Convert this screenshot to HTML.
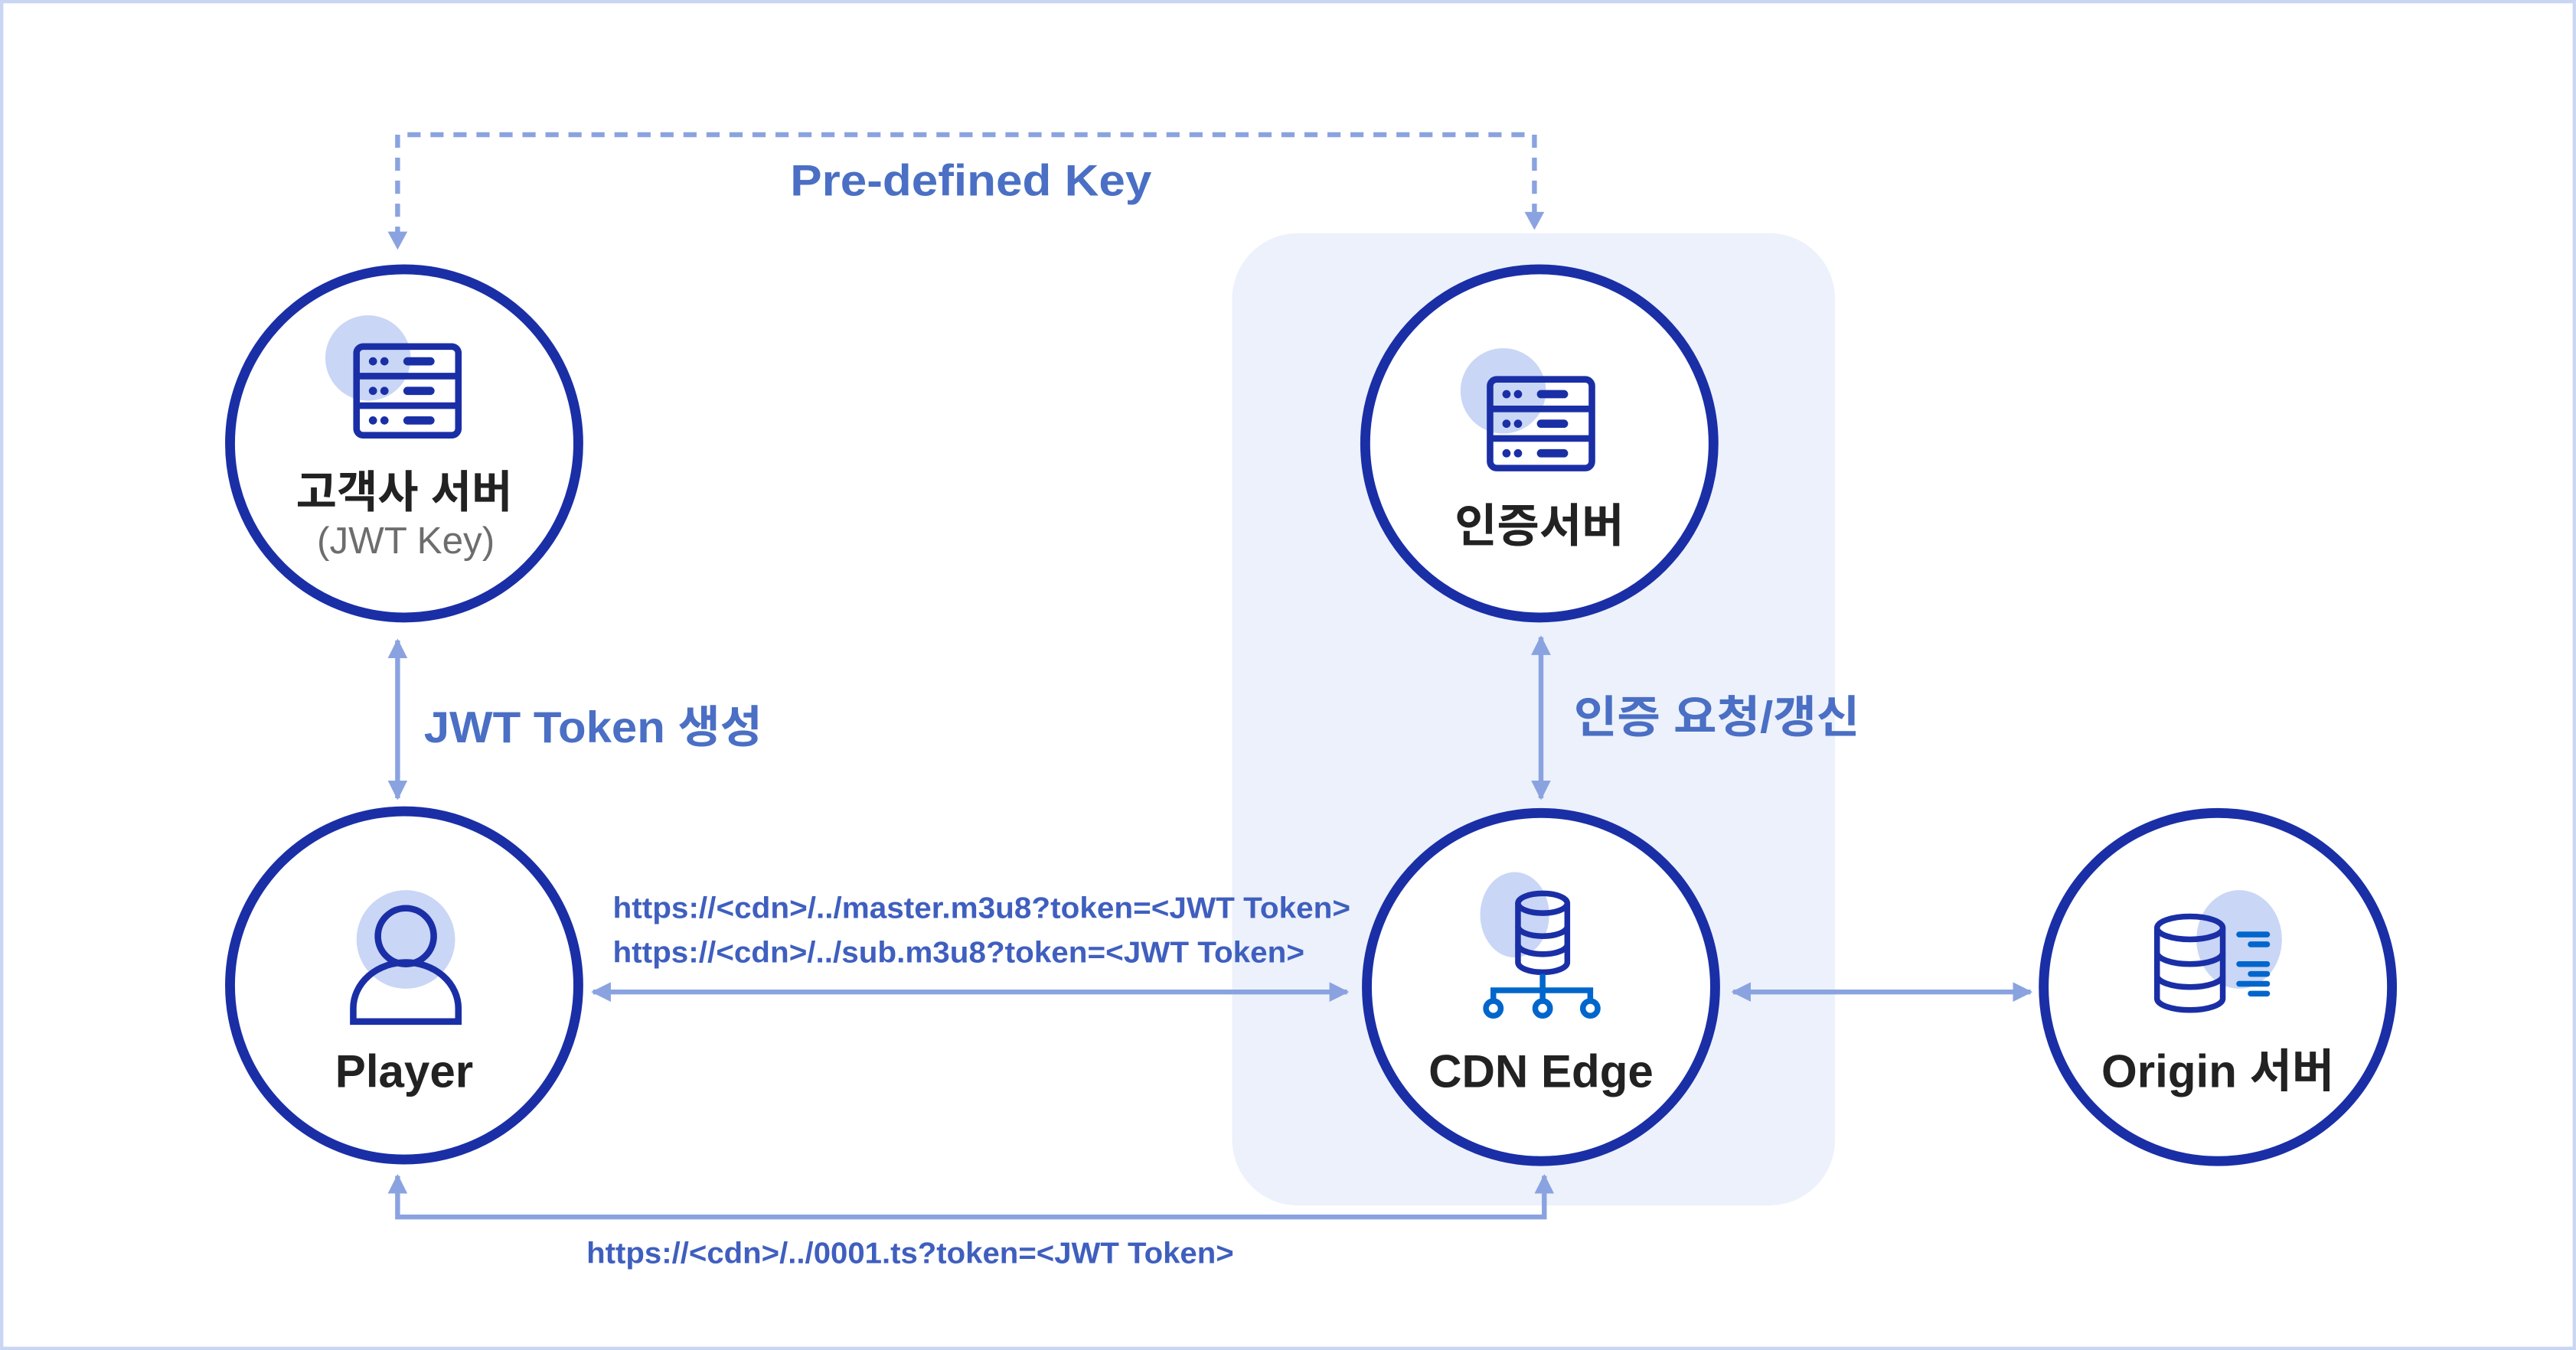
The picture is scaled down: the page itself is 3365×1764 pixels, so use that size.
<!DOCTYPE html>
<html><head><meta charset="utf-8"><style>
html,body{margin:0;padding:0;background:#fff;width:3365px;height:1764px;overflow:hidden}
svg{display:block}
text{font-family:"Liberation Sans","Noto Sans CJK KR",sans-serif}
</style></head><body>
<svg width="3365" height="1764" viewBox="0 0 1568 822" xmlns="http://www.w3.org/2000/svg">
<defs>
<marker id="ah" viewBox="0 0 10 10" refX="9" refY="5" markerWidth="4" markerHeight="4" orient="auto-start-reverse">
<path d="M0,0 L10,5 L0,10 z" fill="#8aa3e0"/></marker>
<g id="srv">
<rect x="0" y="0" width="62" height="54" rx="4" fill="none" stroke="#1a2fa6" stroke-width="4"/>
<line x1="0" y1="18" x2="62" y2="18" stroke="#1a2fa6" stroke-width="4"/>
<line x1="0" y1="36" x2="62" y2="36" stroke="#1a2fa6" stroke-width="4"/>
<g fill="#1a2fa6"><circle cx="10" cy="9" r="2.5"/><circle cx="17" cy="9" r="2.5"/><circle cx="10" cy="27" r="2.5"/><circle cx="17" cy="27" r="2.5"/><circle cx="10" cy="45" r="2.5"/><circle cx="17" cy="45" r="2.5"/></g>
<g stroke="#1a2fa6" stroke-width="5" stroke-linecap="round"><line x1="31" y1="9" x2="45" y2="9"/><line x1="31" y1="27" x2="45" y2="27"/><line x1="31" y1="45" x2="45" y2="45"/></g>
</g>
</defs>
<rect x="1" y="1" width="1566" height="820" fill="#fff" stroke="#c9d5f3" stroke-width="2"/>
<rect x="750" y="142" width="367" height="592" rx="40" fill="#ecf1fb"/>

<path d="M242,146 V82 H934 V134" fill="none" stroke="#8aa3e0" stroke-width="3" stroke-dasharray="8,6"/>
<path d="M236,141 L242,152 L248,141 z M928,129 L934,140 L940,129 z" fill="#8aa3e0"/>
<text x="481" y="119" textLength="220" lengthAdjust="spacingAndGlyphs" font-size="27" font-weight="bold" fill="#4a6fc4">Pre-defined Key</text>

<g stroke="#8aa3e0" stroke-width="3" fill="none" marker-start="url(#ah)" marker-end="url(#ah)">
<line x1="242" y1="390" x2="242" y2="486"/>
<line x1="938" y1="388" x2="938" y2="486"/>
<line x1="361" y1="604" x2="820" y2="604"/>
<line x1="1055" y1="604" x2="1236" y2="604"/>
<path d="M242,716 V741 H940 V716" />
</g>
<text x="258" y="452" textLength="206" lengthAdjust="spacingAndGlyphs" font-size="27" font-weight="bold" fill="#4a6fc4">JWT Token 생성</text>
<text x="958" y="446" textLength="174" lengthAdjust="spacingAndGlyphs" font-size="27" font-weight="bold" fill="#4a6fc4">인증 요청/갱신</text>
<g font-size="18" font-weight="bold" fill="#3f5fbf">
<text x="373" y="559" textLength="449" lengthAdjust="spacingAndGlyphs">https://&lt;cdn&gt;/../master.m3u8?token=&lt;JWT Token&gt;</text>
<text x="373" y="586" textLength="421" lengthAdjust="spacingAndGlyphs">https://&lt;cdn&gt;/../sub.m3u8?token=&lt;JWT Token&gt;</text>
<text x="357" y="769" textLength="394" lengthAdjust="spacingAndGlyphs">https://&lt;cdn&gt;/../0001.ts?token=&lt;JWT Token&gt;</text>
</g>

<g fill="#fff" stroke="#1a2fa6" stroke-width="6">
<circle cx="246" cy="270" r="106"/>
<circle cx="246" cy="600" r="106"/>
<circle cx="937" cy="270" r="106"/>
<circle cx="938" cy="601" r="106"/>
<circle cx="1350" cy="601" r="106"/>
</g>

<circle cx="224" cy="218" r="26" fill="#c9d6f6"/>
<use href="#srv" x="217" y="211"/>
<text x="246" y="309" text-anchor="middle" font-size="27" font-weight="bold" fill="#222">고객사 서버</text>
<text x="247" y="337" text-anchor="middle" font-size="23" fill="#6d6d6d">(JWT Key)</text>

<circle cx="915" cy="238" r="26" fill="#c9d6f6"/>
<use href="#srv" x="907" y="231"/>
<text x="937" y="330" text-anchor="middle" font-size="28" font-weight="bold" fill="#222">인증서버</text>

<circle cx="247" cy="572" r="30" fill="#c9d6f6"/>
<circle cx="247" cy="570" r="17" fill="none" stroke="#1a2fa6" stroke-width="4"/>
<path d="M215,622 V614 A32,28 0 0 1 279,614 V622 Z" fill="none" stroke="#1a2fa6" stroke-width="4"/>
<text x="246" y="662" text-anchor="middle" font-size="28" font-weight="bold" fill="#222">Player</text>

<ellipse cx="922" cy="557" rx="21" ry="26" fill="#c9d6f6"/>
<g fill="none" stroke="#1a2fa6" stroke-width="3.5">
<path d="M924,550 V586 A15,6 0 0 0 954,586 V550"/>
<ellipse cx="939" cy="550" rx="15" ry="6"/>
<path d="M924,564 A15,6 0 0 0 954,564 M924,575 A15,6 0 0 0 954,575"/>
</g>
<g fill="none" stroke="#0066cc" stroke-width="3.5">
<path d="M939,593 V603 M909,611 V603 H968 V611 M939,603 V611"/>
<circle cx="909" cy="614" r="4.5"/><circle cx="939" cy="614" r="4.5"/><circle cx="968" cy="614" r="4.5"/>
</g>
<text x="938" y="662" text-anchor="middle" font-size="28" font-weight="bold" fill="#222">CDN Edge</text>

<ellipse cx="1363" cy="572" rx="26" ry="30" fill="#c9d6f6"/>
<g fill="none" stroke="#1a2fa6" stroke-width="3.5">
<path d="M1313,565 V608 A20,7 0 0 0 1353,608 V565"/>
<ellipse cx="1333" cy="565" rx="20" ry="7"/>
<path d="M1313,580 A20,7 0 0 0 1353,580 M1313,594 A20,7 0 0 0 1353,594"/>
</g>
<g stroke="#0066cc" stroke-width="3.5" stroke-linecap="round">
<line x1="1363" y1="569" x2="1380" y2="569"/><line x1="1370" y1="575" x2="1380" y2="575"/>
<line x1="1363" y1="587" x2="1380" y2="587"/><line x1="1370" y1="593" x2="1380" y2="593"/>
<line x1="1363" y1="599" x2="1380" y2="599"/><line x1="1370" y1="605" x2="1380" y2="605"/>
</g>
<text x="1350" y="662" text-anchor="middle" font-size="28" font-weight="bold" fill="#222">Origin 서버</text>
</svg>
</body></html>
